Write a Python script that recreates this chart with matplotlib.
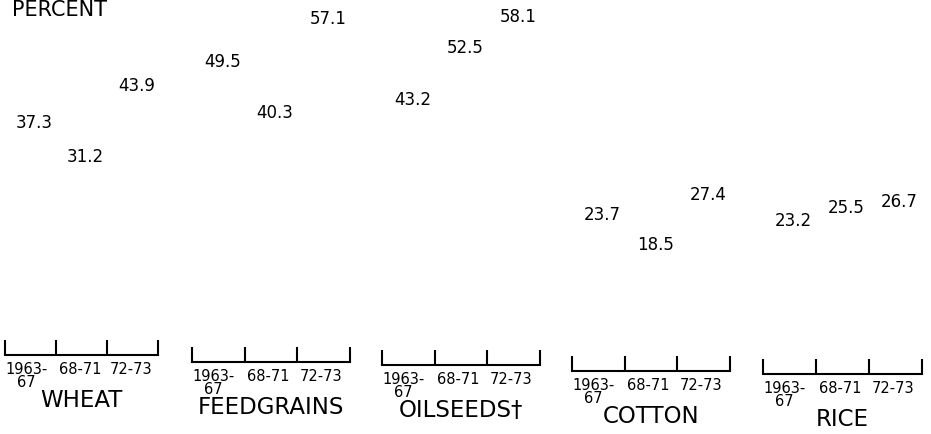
#!/usr/bin/env python3
import matplotlib
matplotlib.use('Agg')
import matplotlib.pyplot as plt

plt.rc('font', family='DejaVu Sans')

# data (percent)
crops = ['WHEAT', 'FEEDGRAINS', 'OILSEEDS\u2020', 'COTTON', 'RICE']
periods = ['1963-\n67', '68-71', '72-73']
wheat = [37.3, 31.2, 43.9]
feedgrains = [49.5, 40.3, 57.1]
oilseeds = [43.2, 52.5, 58.1]
cotton = [23.7, 18.5, 27.4]
rice = [23.2, 25.5, 26.7]
values = [wheat, feedgrains, oilseeds, cotton, rice]

W, H = 931, 434
# panel extents in pixels (left, right, axis-line y); the scan is slightly tilted
panels = [(5, 158, 355), (192, 350, 362), (382, 540, 365), (572, 730, 371), (763, 922, 374)]
px_per_unit = 5.6

fig = plt.figure(figsize=(W / 100, H / 100), dpi=100)

for name, vals, (x0, x1, yb) in zip(crops, values, panels):
  ax = fig.add_axes([x0 / W, 1 - yb / H, (x1 - x0) / W, yb / H])
  ax.set_xlim(0, 3)
  ax.set_ylim(0, yb / px_per_unit)
  pos = [0.5, 1.5, 2.5]
  ax.bar(pos, vals, width=0.8, color='none', linewidth=0)
  for x, v in zip(pos, vals):
    ax.annotate(f'{v}', (x, v), xytext=(3, 10), textcoords='offset points',
                ha='center', va='bottom', fontsize=12)
  for s in ['top', 'left', 'right']:
    ax.spines[s].set_visible(False)
  ax.spines['bottom'].set_linewidth(1.5)
  ax.set_yticks([])
  ax.xaxis.remove_overlapping_locs = False
  ax.set_xticks([0, 1, 2, 3])
  ax.set_xticklabels([])
  ax.tick_params(axis='x', which='major', direction='in', length=11, width=1.5)
  ax.set_xticks([0.0, 1.05, 2.05], minor=True)
  ax.set_xticklabels(periods, minor=True, ha='left', multialignment='center',
                     fontsize=10.5, linespacing=0.85)
  ax.tick_params(axis='x', which='minor', length=0, pad=5)
  ax.annotate(name, (0.5, 0), xycoords='axes fraction', xytext=(0, -33),
              textcoords='offset points', ha='center', va='center', fontsize=16.5)
  ax.patch.set_visible(False)

fig.text(12 / W, 1.0, 'PERCENT', ha='left', va='top', fontsize=15)

plt.savefig('out.png', dpi=100)
plt.close()
